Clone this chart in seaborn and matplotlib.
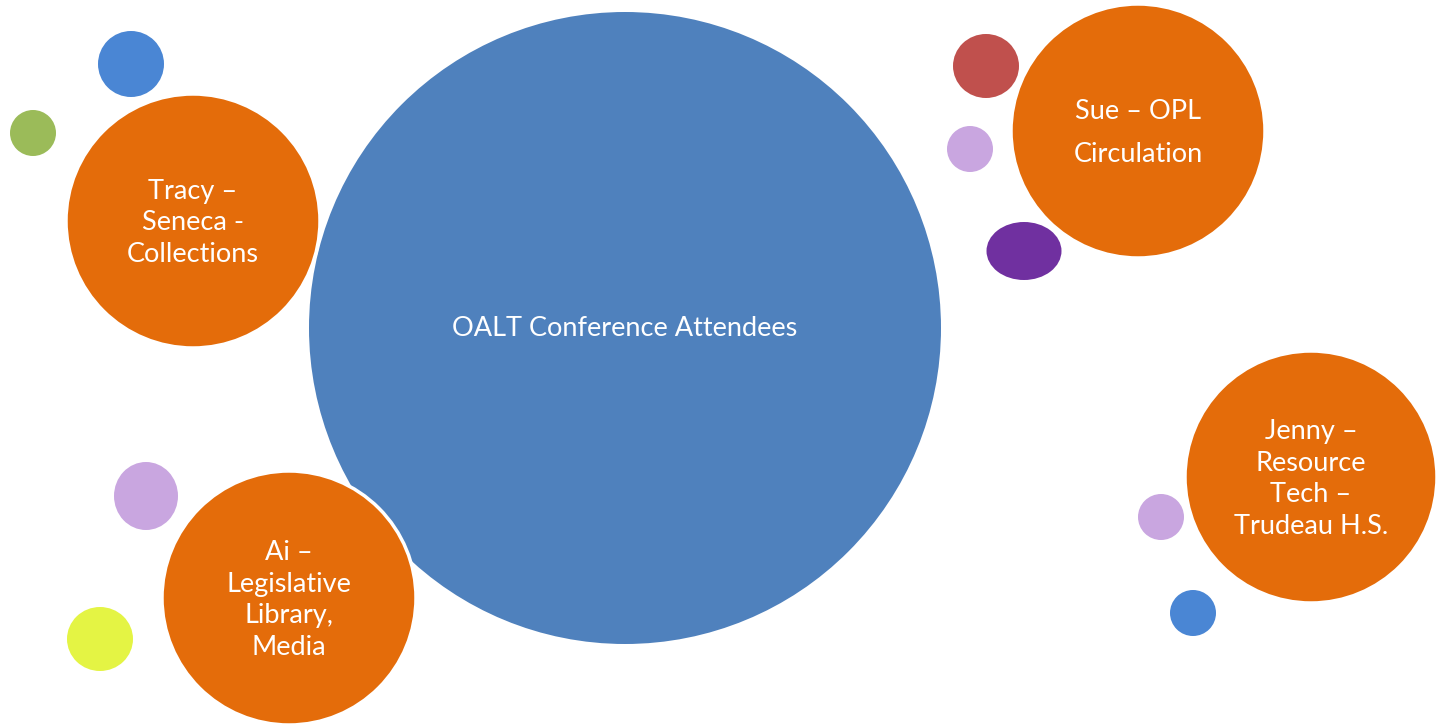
import matplotlib
matplotlib.use("Agg")
import matplotlib.pyplot as plt
from matplotlib.patches import Ellipse
import seaborn as sns

# bubbles (pixel coordinates of the slide, y goes down)
big_label = "OALT Conference Attendees"
big_center = (625, 328)
big_size = (632, 632)

people = ["Tracy –\nSeneca -\nCollections",
          "Sue – OPL\nCirculation",
          "Jenny –\nResource\nTech –\nTrudeau H.S.",
          "Ai –\nLegislative\nLibrary,\nMedia"]
people_x = [193, 1138, 1311, 289]
people_y = [221, 131, 477, 598]
people_d = [254, 254, 252, 254]
people_spacing = [1.33, 1.9, 1.33, 1.33]

dot_x = [131, 33, 986, 970, 1024, 146, 100, 1161, 1193]
dot_y = [64, 133, 66, 149, 251, 496, 639, 517, 613]
dot_w = [66, 46, 66, 46, 75, 64, 66, 46, 46]
dot_h = [66, 46, 64, 46, 58, 68, 64, 46, 46]
dot_colors = ["#4A86D4", "#9BBB59", "#C0504D", "#C9A6E0", "#7030A0",
              "#C9A6E0", "#E4F444", "#C9A6E0", "#4A86D4"]

BLUE = "#4F81BD"
ORANGE = "#E46C0A"

sns.set_theme(style="white")
plt.rcParams['font.family'] = ['Lato', 'DejaVu Sans']

fig = plt.figure(figsize=(14.36, 7.24), dpi=100)
ax = fig.add_axes([0, 0, 1, 1])
ax.set_xlim(0, 1436)
ax.set_ylim(724, 0)
ax.set_aspect('equal')
ax.axis('off')

ax.add_patch(Ellipse(big_center, big_size[0], big_size[1], facecolor=BLUE,
                     edgecolor='none', zorder=1))
ax.text(big_center[0], big_center[1], big_label, color='white', fontsize=19.5,
        ha='center', va='center', zorder=5)

for x, y, w, h, c in zip(dot_x, dot_y, dot_w, dot_h, dot_colors):
    ax.add_patch(Ellipse((x, y), w, h, facecolor=c, edgecolor='none', zorder=2))

for lab, x, y, d, ls in zip(people, people_x, people_y, people_d, people_spacing):
    ax.add_patch(Ellipse((x, y), d, d, facecolor=ORANGE, edgecolor='white',
                         linewidth=2.5, zorder=3))
    ax.text(x, y + 2, lab, color='white', fontsize=19.5, ha='center', va='center',
            multialignment='center', linespacing=ls, zorder=5)

fig.savefig("out.png", dpi=100, facecolor='white')
